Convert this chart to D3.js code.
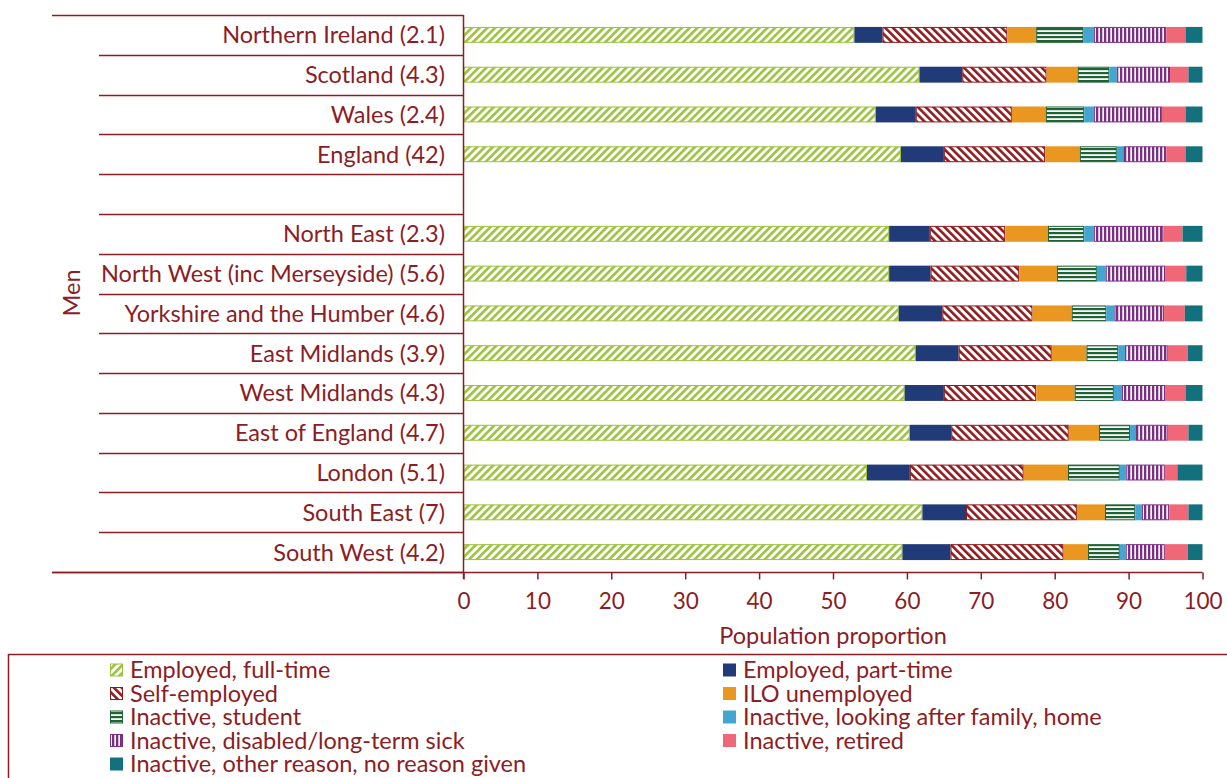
<!DOCTYPE html>
<html><head><meta charset="utf-8">
<script src="https://cdn.jsdelivr.net/npm/d3@7"></script>
<style>
body{margin:0;background:#fff;}
text{font-family:Lato,"Open Sans",sans-serif;fill:#8c1d24;}
</style></head>
<body><svg id="c" width="1227" height="778"></svg>
<script>
const categories = ["Northern Ireland (2.1)","Scotland (4.3)","Wales (2.4)","England (42)","",
  "North East (2.3)","North West (inc Merseyside) (5.6)","Yorkshire and the Humber (4.6)",
  "East Midlands (3.9)","West Midlands (4.3)","East of England (4.7)","London (5.1)",
  "South East (7)","South West (4.2)"];
const fullTime = [52.9,61.7,55.8,59.2,0,57.6,57.6,58.9,61.2,59.7,60.4,54.6,62.1,59.4];
const partTime = [3.8,5.8,5.4,5.8,0,5.5,5.6,5.9,5.8,5.3,5.6,5.8,5.9,6.5];
const selfEmployed = [16.9,11.4,13.0,13.7,0,10.2,12.0,12.2,12.6,12.5,15.9,15.4,15.0,15.3];
const iloUnemployed = [3.9,4.2,4.6,4.7,0,5.8,5.1,5.3,4.7,5.2,4.1,6.0,3.8,3.3];
const student = [6.4,4.3,5.2,5.0,0,4.9,5.4,4.7,4.3,5.3,4.2,7.0,4.1,4.3];
const family = [1.4,1.0,1.3,0.9,0,1.3,1.2,1.1,0.9,1.1,0.8,0.9,0.9,0.8];
const disabled = [9.8,7.2,9.2,5.8,0,9.4,8.1,6.7,5.8,5.9,4.3,5.2,3.7,5.3];
const retired = [2.6,2.5,3.2,2.6,0,2.6,2.8,2.8,2.7,2.7,2.8,1.7,2.6,3.1];
const other = [2.3,1.9,2.3,2.3,0,2.7,2.2,2.4,2.0,2.3,1.9,3.4,1.9,2.0];
const xTicks = [0,10,20,30,40,50,60,70,80,90,100];
const seriesNames = ["Employed, full-time","Employed, part-time","Self-employed","ILO unemployed",
  "Inactive, student","Inactive, looking after family, home","Inactive, disabled/long-term sick",
  "Inactive, retired","Inactive, other reason, no reason given"];
const seriesValues = [fullTime,partTime,selfEmployed,iloUnemployed,student,family,disabled,retired,other];

const dark = "#8c1d24";
const FS = 23.5;
const styles = [
  {fill:"url(#pFT)", stroke:"#9bc23c"},
  {fill:"#213b78", stroke:null},
  {fill:"url(#pSE)", stroke:"#8e1b1e"},
  {fill:"#ea9722", stroke:null},
  {fill:"url(#pST)", stroke:"#1f6334"},
  {fill:"#43a6d1", stroke:null},
  {fill:"url(#pDS)", stroke:"#7c2d84"},
  {fill:"#f06877", stroke:null},
  {fill:"#12717c", stroke:null}
];

const svg = d3.select("#c");
const defs = svg.append("defs");
function stripe(id, color, w, lw, rot){
  const p = defs.append("pattern").attr("id",id).attr("patternUnits","userSpaceOnUse")
    .attr("width",w).attr("height",w);
  if(rot!==null) p.attr("patternTransform","rotate("+rot+")");
  p.append("rect").attr("width",w).attr("height",w).attr("fill","#fff");
  p.append("rect").attr("width",lw).attr("height",w).attr("fill",color);
}
stripe("pFT","#9bc23c",5.5,2.6,45);
stripe("pSE","#8e1b1e",5.5,2.6,-45);
stripe("pDS","#7c2d84",4,2.3,0);
stripe("pST","#1f6334",4,2.2,90);

const x0=463.5, x1=1202.5, yTop=15, yBot=572;
const x = d3.scaleLinear().domain([0,100]).range([x0,x1]);
const y = d3.scaleBand().domain(d3.range(categories.length)).range([yTop,yBot])
  .paddingInner(0.6).paddingOuter(0.3);

const rows = categories.map((c,i)=>{const o={i}; seriesValues.forEach((s,k)=>o[k]=s[i]); return o;});
const stack = d3.stack().keys(d3.range(seriesValues.length))(rows);

const g = svg.append("g");
stack.forEach((layer,k)=>{
  const st = styles[k];
  g.selectAll(null).data(layer.filter(d=>categories[d.data.i]!=="")).enter().append("rect")
    .attr("x",d=>x(d[0])+(st.stroke?0.5:0))
    .attr("y",d=>y(d.data.i)+(st.stroke?0.5:0))
    .attr("width",d=>Math.max(0,x(d[1])-x(d[0])-(st.stroke?1:0)))
    .attr("height",y.bandwidth()-(st.stroke?1:0))
    .attr("fill",st.fill)
    .attr("stroke",st.stroke||"none").attr("stroke-width",st.stroke?1:0);
});

// category separator lines
const step = y.step();
for(let i=0;i<=categories.length;i++){
  const yy = Math.round(yTop+i*step)+0.5;
  svg.append("line").attr("x1",(i===0||i===categories.length)?52:99).attr("x2",x0)
    .attr("y1",yy).attr("y2",yy).attr("stroke",dark).attr("stroke-width",1.5);
}
// category labels
svg.selectAll(null).data(categories).enter().append("text")
  .attr("x",445).attr("y",(d,i)=>y(i)+y.bandwidth()/2).attr("dy","0.36em")
  .attr("text-anchor","end").attr("font-size",FS).text(d=>d);

// x axis
const xa = svg.append("g").attr("transform","translate(0,"+(yBot+0.5)+")")
  .call(d3.axisBottom(x).tickValues(xTicks).tickSize(7).tickPadding(14));
xa.select(".domain").remove();
xa.selectAll("line").attr("stroke",dark).attr("stroke-width",1.5);
xa.selectAll("text").attr("font-size",22.5).attr("font-family","Lato,'Open Sans',sans-serif").attr("fill",dark);
svg.append("line").attr("x1",52).attr("x2",x1).attr("y1",yBot+0.5).attr("y2",yBot+0.5)
  .attr("stroke",dark).attr("stroke-width",1.5);
svg.append("line").attr("x1",x0).attr("x2",x0).attr("y1",yTop).attr("y2",yBot+7)
  .attr("stroke",dark).attr("stroke-width",1.5);
svg.append("text").attr("x",(x0+x1)/2).attr("y",636).attr("dy","0.36em")
  .attr("text-anchor","middle").attr("font-size",FS).text("Population proportion");
svg.append("text").attr("transform","translate(72,293) rotate(-90)").attr("dy","0.36em")
  .attr("text-anchor","middle").attr("font-size",FS).text("Men");

// legend box
svg.append("path").attr("d","M8.5,790V654.5H1240").attr("fill","none").attr("stroke",dark).attr("stroke-width",1.5);
const leg = svg.append("g");
seriesNames.forEach((n,k)=>{
  const col = k%2, row = Math.floor(k/2);
  const lx = col===0?110:723, ly = 670+row*23.5;
  const st = styles[k];
  leg.append("rect").attr("x",lx+(st.stroke?0.5:0)).attr("y",ly-6.5+(st.stroke?0.5:0))
    .attr("width",st.stroke?12:13).attr("height",st.stroke?12:13)
    .attr("fill",st.fill).attr("stroke",st.stroke||"none");
  leg.append("text").attr("x",lx+20).attr("y",ly).attr("dy","0.36em").attr("font-size",FS).text(n);
});
</script></body></html>
